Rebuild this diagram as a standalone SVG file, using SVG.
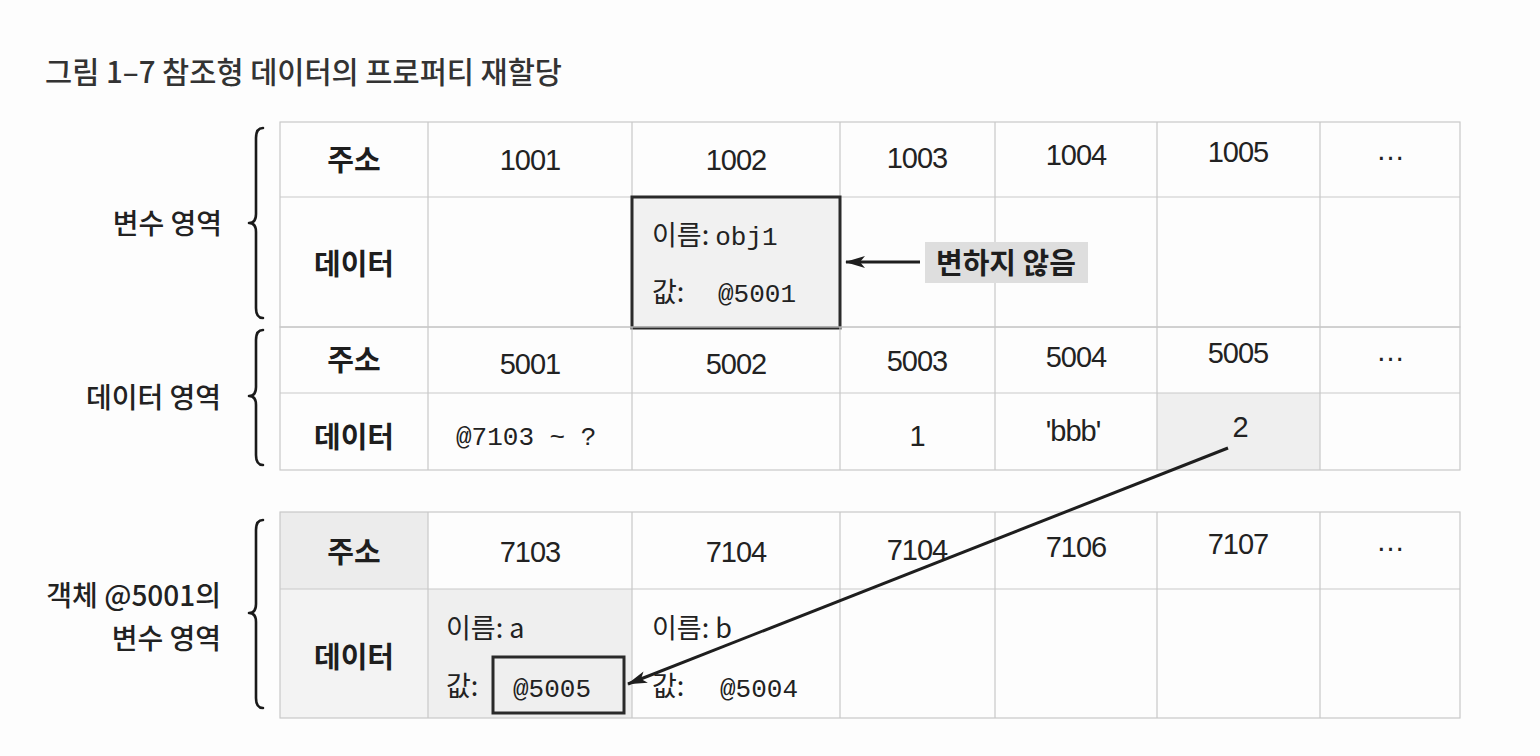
<svg xmlns="http://www.w3.org/2000/svg" width="1540" height="756" viewBox="0 0 1540 756">
<defs>
<style>
.bg{fill:#fdfdfd}
.grid{fill:none;stroke:#c9c9c9;stroke-width:1.2}
.shade{fill:#efefef}
.kh{font-family:"Noto Sans CJK KR","Noto Sans",sans-serif;font-weight:700;font-size:29px;fill:#1e1e1e;text-anchor:middle;dominant-baseline:central}
.num{font-family:"Liberation Sans","Noto Sans CJK KR",sans-serif;font-size:29px;fill:#222;text-anchor:middle;dominant-baseline:central;letter-spacing:-1px}
.mono{font-family:"Liberation Mono","DejaVu Sans Mono",monospace;font-size:26px;fill:#222}
.lbl{font-family:"Noto Sans CJK KR","Noto Sans",sans-serif;font-weight:500;font-size:28px;fill:#222;text-anchor:end;dominant-baseline:central}
.cell{font-family:"Noto Sans CJK KR","Liberation Sans",sans-serif;font-size:27px;fill:#222}
.brace{fill:none;stroke:#1a1a1a;stroke-width:2.6;stroke-linecap:round;stroke-linejoin:round}
.box{fill:#f1f1f1;stroke:#2a2a2a;stroke-width:3}
.conn{fill:none;stroke:#1e1e1e;stroke-width:3}
</style>
<marker id="ah" viewBox="0 0 20 12" refX="19" refY="6" markerWidth="20" markerHeight="12" markerUnits="userSpaceOnUse" orient="auto">
<path d="M0,0 L20,6 L0,12 L5,6 Z" fill="#1e1e1e"/>
</marker>
</defs>
<rect class="bg" x="0" y="0" width="1540" height="756"/>

<text id="title" x="45" y="70" font-family="'Noto Sans CJK KR','Noto Sans',sans-serif" font-size="29.5" font-weight="500" fill="#333" dominant-baseline="central">그림 1–7 참조형 데이터의 프로퍼티 재할당</text>

<!-- Table 1: 변수 영역 -->
<g id="var-area">
<text class="lbl" x="222" y="222">변수 영역</text>
<path class="brace" d="M263,128 Q256,128 256,138 L256,214 Q256,223 249,223 Q256,223 256,232 L256,308 Q256,318 263,318"/>
<rect class="grid" x="280" y="122" width="1180" height="205"/>
<path class="grid" d="M280,197 H1460 M428,122 V327 M632,122 V327 M840,122 V327 M995,122 V327 M1157,122 V327 M1320,122 V327"/>
<text class="kh" x="354" y="158">주소</text>
<text class="kh" x="354" y="262">데이터</text>
<text class="num" x="530" y="160">1001</text>
<text class="num" x="736" y="160">1002</text>
<text class="num" x="917" y="158">1003</text>
<text class="num" x="1076" y="155">1004</text>
<text class="num" x="1238" y="152">1005</text>
<text class="num" x="1390" y="150" font-size="20">…</text>
</g>

<g id="obj1-box">
<rect class="box" x="632" y="197" width="208" height="131"/>
<text class="cell" x="652" y="245">이름: <tspan class="mono" font-size="26">obj1</tspan></text>
<text class="cell" x="652" y="302">값:<tspan class="mono" x="718" font-size="26">@5001</tspan></text>
</g>

<g id="unchanged-label">
<rect x="925" y="242" width="163" height="41" fill="#dedede"/>
<text class="kh" x="1006" y="261" font-size="26">변하지 않음</text>
</g>

<!-- Table 2: 데이터 영역 -->
<g id="data-area">
<text class="lbl" x="221" y="396">데이터 영역</text>
<path class="brace" d="M263,330 Q256,330 256,340 L256,387 Q256,396 249,396 Q256,396 256,405 L256,455 Q256,465 263,465"/>
<rect class="shade" x="1157" y="393" width="163" height="77"/>
<rect class="grid" x="280" y="327" width="1180" height="143"/>
<path class="grid" d="M280,393 H1460 M428,327 V470 M632,327 V470 M840,327 V470 M995,327 V470 M1157,327 V470 M1320,327 V470"/>
<text class="kh" x="354" y="358">주소</text>
<text class="kh" x="354" y="435">데이터</text>
<text class="num" x="530" y="364">5001</text>
<text class="num" x="736" y="364">5002</text>
<text class="num" x="917" y="361">5003</text>
<text class="num" x="1076" y="357">5004</text>
<text class="num" x="1238" y="353">5005</text>
<text class="num" x="1390" y="351" font-size="20">…</text>
<text class="mono" x="456" y="445">@7103 ~ ?</text>
<text class="num" x="917" y="436">1</text>
<text class="num" x="1073" y="431">'bbb'</text>
<text class="num" x="1240" y="427">2</text>
</g>

<!-- Table 3: 객체 @5001의 변수 영역 -->
<g id="obj-var-area">
<text class="lbl" x="221" y="594">객체 @5001의</text>
<text class="lbl" x="221" y="637">변수 영역</text>
<path class="brace" d="M263,520 Q256,520 256,530 L256,604 Q256,613 249,613 Q256,613 256,622 L256,698 Q256,708 263,708"/>
<rect x="280" y="512" width="148" height="77" fill="#ececec"/>
<rect x="280" y="589" width="148" height="129" fill="#f3f3f3"/>
<rect x="428" y="589" width="204" height="129" fill="#efefef"/>
<rect class="grid" x="280" y="512" width="1180" height="206"/>
<path class="grid" d="M280,589 H1460 M428,512 V718 M632,512 V718 M840,512 V718 M995,512 V718 M1157,512 V718 M1320,512 V718"/>
<text class="kh" x="354" y="550">주소</text>
<text class="kh" x="354" y="655">데이터</text>
<text class="num" x="530" y="552">7103</text>
<text class="num" x="736" y="552">7104</text>
<text class="num" x="917" y="550">7104</text>
<text class="num" x="1076" y="547">7106</text>
<text class="num" x="1238" y="544">7107</text>
<text class="num" x="1390" y="541" font-size="20">…</text>
<text class="cell" x="446" y="638">이름: a</text>
<text class="cell" x="446" y="696">값:</text>
<text class="cell" x="652" y="638">이름: b</text>
<text class="cell" x="652" y="696">값:</text>
<text class="mono" x="720" y="697">@5004</text>
</g>

<g id="val-box">
<rect x="493" y="657" width="131" height="56" fill="none" stroke="#2a2a2a" stroke-width="3"/>
<text class="mono" x="513" y="697">@5005</text>
</g>

<g id="connectors">
<line class="conn" x1="920" y1="262" x2="846" y2="262" marker-end="url(#ah)"/>
<line class="conn" x1="1228" y1="448" x2="628" y2="684" marker-end="url(#ah)"/>
</g>
</svg>
